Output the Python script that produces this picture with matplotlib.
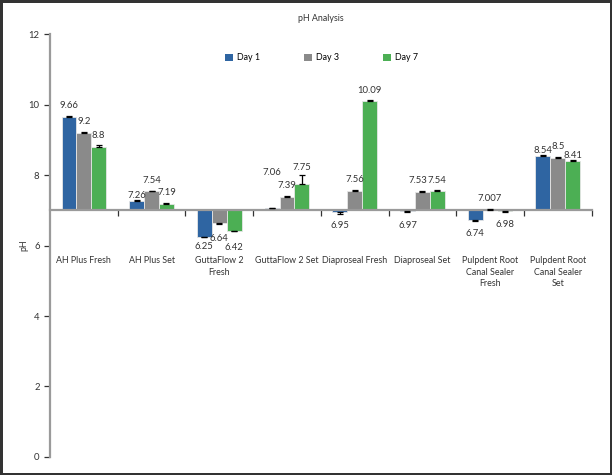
import numpy as np
import matplotlib
matplotlib.use("Agg")
import matplotlib.pyplot as plt
from matplotlib.patches import Patch

plt.rcParams["font.family"] = ["Lato", "DejaVu Sans"]

categories = [
    "AH Plus Fresh", "AH Plus Set", "GuttaFlow 2\nFresh", "GuttaFlow 2 Set",
    "Diaproseal Fresh", "Diaproseal Set", "Pulpdent Root\nCanal Sealer\nFresh",
    "Pulpdent Root\nCanal Sealer\nSet",
]
series = ["Day 1", "Day 3", "Day 7"]
day1 = [9.66, 7.26, 6.25, 7.06, 6.95, 6.97, 6.74, 8.54]
day3 = [9.2, 7.54, 6.64, 7.39, 7.56, 7.53, 7.007, 8.5]
day7 = [8.8, 7.19, 6.42, 7.75, 10.09, 7.54, 6.98, 8.41]
err1 = [0.02, 0.02, 0.02, 0.02, 0.04, 0.02, 0.05, 0.02]
err3 = [0.02, 0.02, 0.02, 0.02, 0.02, 0.02, 0.02, 0.02]
err7 = [0.05, 0.02, 0.02, 0.25, 0.03, 0.05, 0.02, 0.02]
labels1 = ["9.66", "7.26", "6.25", "7.06", "6.95", "6.97", "6.74", "8.54"]
labels3 = ["9.2", "7.54", "6.64", "7.39", "7.56", "7.53", "7.007", "8.5"]
labels7 = ["8.8", "7.19", "6.42", "7.75", "10.09", "7.54", "6.98", "8.41"]
yticks = [0, 2, 4, 6, 8, 10, 12]

base = 7.0
colors = ["#2f65a2", "#8a8a8a", "#4caf54"]
values = [day1, day3, day7]
errors = [err1, err3, err7]
labels = [labels1, labels3, labels7]

# label offsets in points (Excel labels were nudged by hand in places)
up_pt, down_pt = 8, -10
nudge = {(0, 1): 4, (0, 3): 26, (0, 7): 4, (2, 3): 12, (2, 7): 4,
         (0, 2): -7, (1, 2): -11, (2, 2): -12}
fs = 6.4

fig = plt.figure(figsize=(6.12, 4.75), dpi=100)
fig.patch.set_edgecolor("#333333")
fig.patch.set_linewidth(2.5)
ax = fig.add_axes([0.0817, 0.038, 0.885, 0.89])

x = np.arange(len(categories))
w = 0.22
for i, (vals, errs, col) in enumerate(zip(values, errors, colors)):
    vals = np.array(vals)
    h = vals - base
    xs = x + (i - 1) * w
    ax.bar(xs, h, w, bottom=base, color=col, edgecolor="#e6e6e6",
           linewidth=0.6, zorder=2, label=series[i])
    lo = np.where(h < 0, errs, 0)
    hi = np.where(h >= 0, errs, 0)
    ax.errorbar(xs, vals, yerr=[lo, hi], fmt="none", ecolor="black",
                elinewidth=0.9, capsize=2.5, capthick=0.9, zorder=3)
    for j, (xx, v) in enumerate(zip(xs, vals)):
        off = nudge.get((i, j), up_pt if v >= base else down_pt)
        dx = -3 if (i, j) == (1, 5) else 0
        ax.annotate(labels[i][j], (xx, v), xytext=(dx, off),
                    textcoords="offset points", ha="center", va="center",
                    fontsize=fs + 0.4, color="#333333")

ax.set_xlim(-0.5, len(categories) - 0.5)
ax.set_ylim(0, 12)
ax.set_yticks(yticks)
ax.tick_params(axis="y", labelsize=fs + 0.4, length=4, width=0.9,
               colors="#333333", direction="out")

ax.spines["top"].set_visible(False)
ax.spines["right"].set_visible(False)
ax.spines["left"].set_color("#9a9a9a")
ax.spines["left"].set_linewidth(1.6)
ax.spines["bottom"].set_position(("data", base))
ax.spines["bottom"].set_color("#9a9a9a")
ax.spines["bottom"].set_linewidth(1.6)

ax.set_xticks(x)
ax.set_xticklabels(categories, fontsize=fs, color="#333333", linespacing=1.35)
ax.tick_params(axis="x", which="major", length=0, pad=33)
ax.set_xticks(np.arange(0.5, len(categories)), minor=True)
ax.tick_params(axis="x", which="minor", length=4, width=0.9, color="#333333",
               direction="out")

ax.set_ylabel("pH", fontsize=fs, color="#333333", labelpad=0)
fig.text(0.525, 0.962, "pH Analysis", ha="center", va="center", fontsize=fs,
         color="#333333")

handles = [Patch(facecolor=c, edgecolor="none") for c in colors]
fig.legend(handles, series, loc="center", bbox_to_anchor=(0.525, 0.878),
           ncol=3, frameon=False, fontsize=fs, handlelength=0.9,
           handleheight=0.9, handletextpad=0.4, columnspacing=5.0)

fig.savefig("out.png", dpi=100)
